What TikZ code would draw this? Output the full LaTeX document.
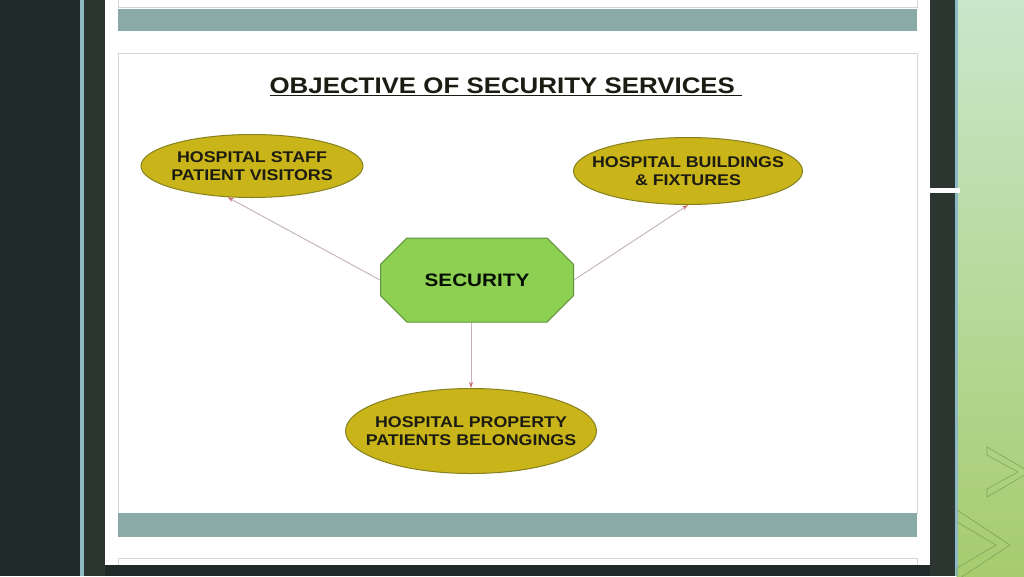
\documentclass[tikz,border=0pt]{standalone}
\usepackage{fontspec}
\setmainfont{Liberation Sans}
\newfontfamily\widesans[FakeStretch=1.15]{Liberation Sans}
\usetikzlibrary{positioning,arrows.meta,shapes.geometric,shapes.misc}
\definecolor{slate}{HTML}{1E2B28}
\definecolor{slatemid}{HTML}{2B3631}
\definecolor{edgeblue}{HTML}{8FB9C4}
\definecolor{barteal}{HTML}{89AAA6}
\definecolor{cardline}{HTML}{D2D6D6}
\definecolor{goldfill}{HTML}{C9B41A}
\definecolor{golddraw}{HTML}{86801E}
\definecolor{leaffill}{HTML}{8ED052}
\definecolor{leafdraw}{HTML}{5E9440}
\definecolor{linkline}{HTML}{C4B0BA}
\definecolor{linktip}{HTML}{C76A6A}
\definecolor{inktext}{HTML}{1C1C12}
\definecolor{minttop}{HTML}{C9E7CB}
\definecolor{mintmid}{HTML}{BCE0A6}
\definecolor{mintlow}{HTML}{A6CC6E}
\definecolor{chevron}{HTML}{7FA45A}

\begin{document}
\begin{tikzpicture}[x=1pt,y=-1pt,
  goal/.style={ellipse,draw=golddraw,fill=goldfill,line width=1pt,inner xsep=-20pt,inner ysep=-8pt,
    align=center,font=\widesans\bfseries\fontsize{15.5}{18.5}\selectfont,text=inktext},
  core/.style={chamfered rectangle,chamfered rectangle xsep=22pt,chamfered rectangle ysep=20pt,
    draw=leafdraw,fill=leaffill,line width=1pt,minimum width=193pt,minimum height=84pt,
    inner sep=0pt,font=\widesans\bfseries\fontsize{18}{20}\selectfont,text=inktext!80!green!20!black},
  link/.style={draw=linkline,line width=0.9pt,-{Stealth[length=6pt,width=4pt,color=linktip]}}]
\useasboundingbox (0,0) rectangle (1024,576);
% slide background
\fill[slate] (0,0) rectangle (1024,576);
\fill[slatemid] (84,0) rectangle (105,576);
\fill[slatemid] (930,0) rectangle (955,576);
\fill[edgeblue] (80,0) rectangle (84,576);
\shade[top color=minttop,middle color=mintmid,bottom color=mintlow] (957,0) rectangle (1024,576);
\fill[edgeblue] (955,0) rectangle (958,576);
\draw[chevron,line width=0.6pt] (987,447)--(1030,472)--(987,497)--(987,489)--(1018,472)--(987,455)--cycle;
\draw[chevron,line width=0.6pt] (957,510)--(1010,545)--(957,580)--(957,568)--(996,545)--(957,522);
\fill[white] (930,188) rectangle (960,193);
% white page
\fill[white] (105,0) rectangle (930,565);
\draw[cardline] (118,0)--(118,7)--(917,7)--(917,0);
\fill[barteal] (118,9) rectangle (917,31);
\draw[cardline,line width=1pt] (118,53) rectangle (917,513);
\fill[barteal] (118,513) rectangle (917,537);
\draw[cardline] (118,565)--(118,558)--(917,558)--(917,565);
% title
\node[font=\widesans\bfseries\fontsize{22.5}{24}\selectfont,text=inktext] (title) at (506,87)
  {\underline{OBJECTIVE OF SECURITY SERVICES\,\,}};
% diagram
\node[core] (sec) at (477,280) {SECURITY};
\node[goal,minimum width=222pt,minimum height=63pt] (staff) at (252,166)
  {HOSPITAL STAFF\\PATIENT VISITORS};
\node[goal,minimum width=229pt,minimum height=67pt] (build) at (688,171)
  {HOSPITAL BUILDINGS\\\& FIXTURES};
\node[goal,minimum width=251pt,minimum height=85pt] (prop) at (471,431)
  {HOSPITAL PROPERTY\\PATIENTS BELONGINGS};
\draw[link] (sec.west) -- (staff.-128);
\draw[link] (sec.east) -- (build.south);
\draw[link] (prop.north |- sec.south) -- (prop.north);
\end{tikzpicture}
\end{document}
